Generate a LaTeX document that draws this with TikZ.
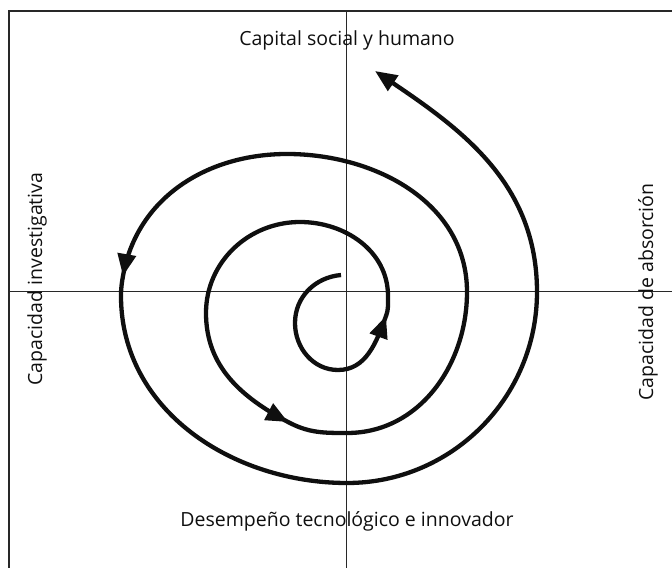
\documentclass[tikz,border=0pt]{standalone}
\usepackage{fontspec}
\setmainfont{Open Sans}
\usepackage{tikz}
\usetikzlibrary{arrows.meta,positioning,calc}
\usepackage{xcolor}
\definecolor{inkcol}{RGB}{15,15,15}
\definecolor{axiscol}{RGB}{40,40,40}
\tikzset{
  frameline/.style={draw=axiscol,line width=1.3pt},
  axisline/.style={draw=axiscol,line width=.9pt},
  spiral/.style={draw=inkcol,line width=4.3pt,line cap=butt},
  spiralarr/.style={spiral,-{Triangle[length=22pt,width=18pt]}},
  tipmark/.style={tips=true,color=inkcol,line width=4.3pt,
                  -{Triangle[length=22pt,width=18pt]}},
  lbl/.style={inner sep=0pt,font=\fontsize{19.5}{22}\selectfont,text=inkcol},
}

\begin{document}
\begin{tikzpicture}[x=1pt,y=1pt]
  \useasboundingbox (0,0) rectangle (672,568);
  % frame and axes
  \coordinate (tl) at (9,557);
  \coordinate (tr) at (672,557);
  \coordinate (bl) at (9,0);
  \coordinate (o) at (346,276.5);
  \draw[frameline] (tr) -- (tl) -- (bl);
  \draw[axisline] (o -| tl) -- (o -| tr);
  \draw[axisline] (o |- tl) -- (o |- bl);
  % labels
  \node[lbl] (capital) at (347,528) {Capital social y humano};
  \node[lbl] (desemp) at (347,47) {Desempeño tecnológico e innovador};
  \node[lbl,rotate=90] (investig) at (37,289) {Capacidad investigativa};
  \node[lbl,rotate=90] (absorc) at (648,276) {Capacidad de absorción};
  % spiral, inside out
  \coordinate (tipA) at (386,252);
  \coordinate (tipB) at (288,146);
  \coordinate (tipC) at (123,292);
  \coordinate (tipD) at (375,497);
  \draw[spiralarr] (341,293) to[out=185,in=90] (295,245)
    to[out=270,in=180] (338,198) to[out=0,in=250] (tipA)
    to[out=70,in=270] (388,272)
    to[out=90,in=0] (300,346) to[out=180,in=90] (206,255)
    to[out=270,in=152] (tipB)
    to[out=-28,in=180] (347,135)
    to[out=0,in=270] (467,276) to[out=90,in=0] (287,414)
    to[out=180,in=80] (tipC)
    to[out=260,in=90] (121,272)
    to[out=270,in=180] (347,85) to[out=0,in=270] (537,276)
    to[out=90,in=-34] (tipD);
  \foreach \t/\ang in {tipA/70,tipB/-28,tipC/260}
    {\path[tipmark] (\t) ++(\ang+180:2) -- (\t);}
\end{tikzpicture}
\end{document}
